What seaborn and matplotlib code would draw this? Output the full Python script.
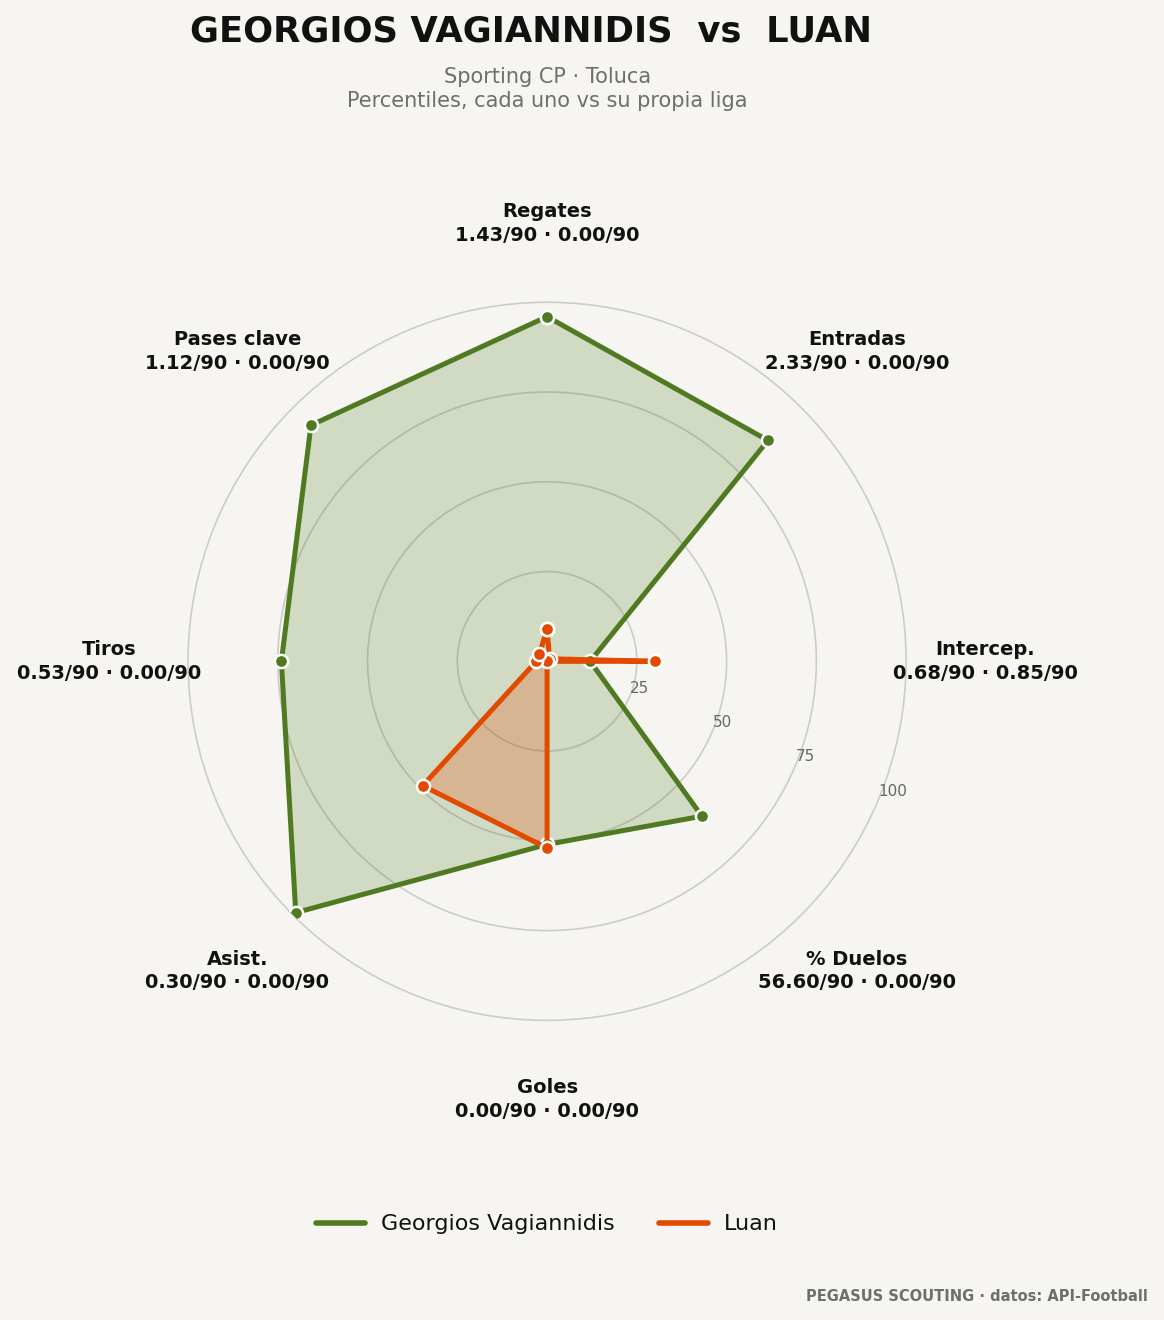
import numpy as np
import pandas as pd
import seaborn as sns
import matplotlib.pyplot as plt
from matplotlib.lines import Line2D

# Data
metrics = ["Regates", "Entradas", "Intercep.", "% Duelos", "Goles", "Asist.", "Tiros", "Pases clave"]
per90_a = ["1.43", "2.33", "0.68", "56.60", "0.00", "0.30", "0.53", "1.12"]
per90_b = ["0.00", "0.00", "0.85", "0.00", "0.00", "0.00", "0.00", "0.00"]
pct_a = [96, 87, 12, 61, 51, 99, 74, 93]
pct_b = [9, 1, 30, 0, 52, 49, 3, 3]
players = ["Georgios Vagiannidis", "Luan"]
colors = ["#4f7a21", "#e24a00"]
fill_alpha = [0.22, 0.25]

bg = "#f6f5f1"
sns.set_theme(style="white")
plt.rcParams["font.family"] = ["DejaVu Sans"]

n = len(metrics)
angles = np.linspace(0, 2 * np.pi, n, endpoint=False)

fig = plt.figure(figsize=(11.64, 13.2), dpi=100, facecolor=bg)
ax = fig.add_axes([0.1615, 0.227, 0.617, 0.544], projection="polar")
ax.set_facecolor(bg)
ax.set_theta_offset(np.pi / 2)
ax.set_theta_direction(-1)

for name, vals, col, fa in zip(players, [pct_a, pct_b], colors, fill_alpha):
    th = list(angles) + [angles[0] + 2 * np.pi]
    vv = list(vals) + [vals[0]]
    d = pd.DataFrame({"theta": th, "value": vv})
    ax.fill(th, vv, color=col, alpha=fa, zorder=2)
    sns.lineplot(data=d, x="theta", y="value", sort=False, estimator=None, ax=ax,
                 color=col, linewidth=3.6, marker="o", markersize=9.5,
                 markeredgecolor="white", markeredgewidth=1.8, zorder=3)

ax.set_ylim(0, 100)
ax.set_yticks([25, 50, 75, 100])
ax.set_yticklabels(["25", "50", "75", "100"], fontsize=11, color="#666666")
ax.set_rlabel_position(112.5)
ax.set_xticks(angles)
ax.set_xticklabels([])
ax.xaxis.grid(False)
ax.yaxis.grid(True, color="#cccccc", linewidth=1.2)
for gl in ax.yaxis.get_gridlines():
    gl.set_clip_on(False)
ax.spines["polar"].set_visible(False)
ax.set_xlabel("")
ax.set_ylabel("")

for ang, m, a, b in zip(angles, metrics, per90_a, per90_b):
    ax.text(ang, 122, f"{m}\n{a}/90 · {b}/90", ha="center", va="center",
            fontsize=14, fontweight="bold", color="#111111", clip_on=False,
            linespacing=1.3)

fig.text(0.4565, 0.976, "GEORGIOS VAGIANNIDIS  vs  LUAN", ha="center", va="center",
         fontsize=25.5, fontweight="bold", color="#111111")
fig.text(0.47, 0.9325, "Sporting CP · Toluca\nPercentiles, cada uno vs su propia liga",
         ha="center", va="center", fontsize=15, color="#6e6e6e", linespacing=1.25)

handles = [Line2D([0], [0], color=c, linewidth=4) for c in colors]
leg = fig.legend(handles, players, loc="center", bbox_to_anchor=(0.47, 0.0725), ncol=2,
                 frameon=False, fontsize=16, handlelength=2.2, handletextpad=0.72,
                 columnspacing=2.0)
for t in leg.get_texts():
    t.set_color("#111111")

fig.text(0.986, 0.0175, "PEGASUS SCOUTING · datos: API-Football", ha="right", va="center",
         fontsize=10.5, fontweight="bold", color="#6e6e6e")

fig.savefig("out.png", dpi=100, facecolor=bg)
